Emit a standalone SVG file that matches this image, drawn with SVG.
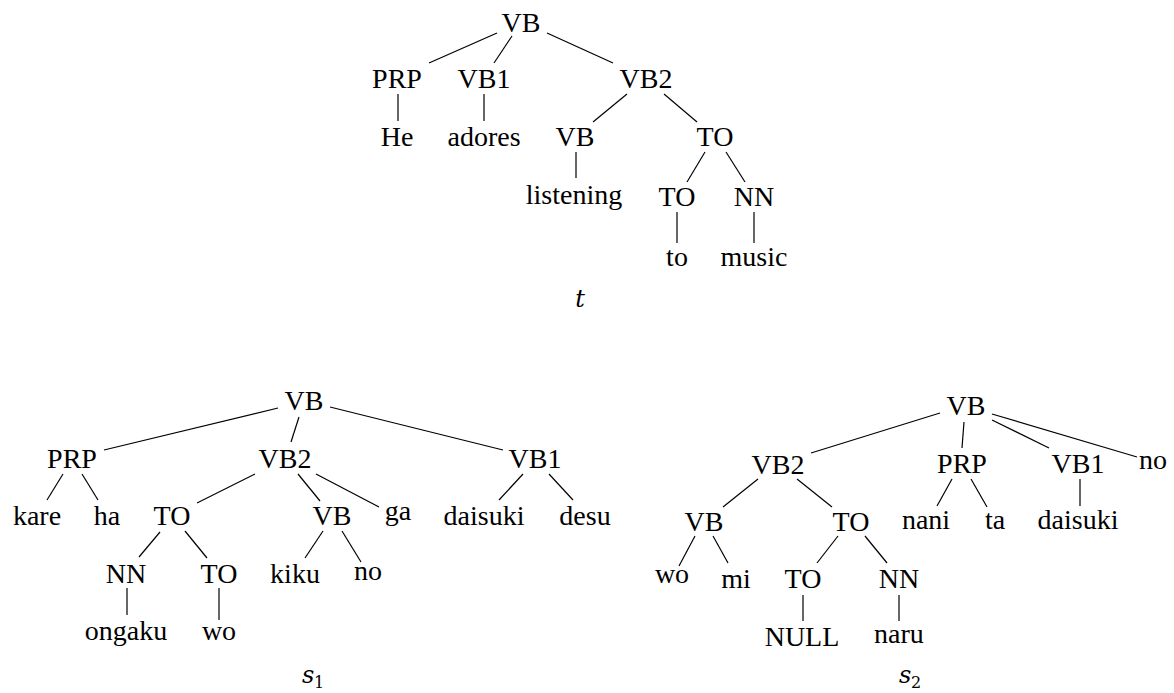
<svg xmlns="http://www.w3.org/2000/svg" width="1174" height="693" viewBox="0 0 1174 693">
<style>
.n{font-family:"Liberation Serif","Times New Roman",serif;font-size:28px;fill:#000;text-anchor:middle}
.m{font-family:"DejaVu Serif",serif;font-style:italic;font-size:24px;fill:#000}
.sub{font-family:"DejaVu Serif",serif;font-size:16px;fill:#000}
#edges line{stroke:#000;stroke-width:1.2;fill:none}
</style>
<rect width="1174" height="693" fill="#fff"/>
<g id="edges">
<line x1="497" y1="33" x2="429" y2="63"/>
<line x1="512" y1="36" x2="494" y2="63"/>
<line x1="547" y1="33" x2="613" y2="63"/>
<line x1="398" y1="94" x2="398" y2="121"/>
<line x1="484" y1="94" x2="484" y2="121"/>
<line x1="627" y1="94" x2="593" y2="122"/>
<line x1="664" y1="94" x2="697" y2="122"/>
<line x1="576" y1="152" x2="576" y2="178"/>
<line x1="705" y1="152" x2="687" y2="182"/>
<line x1="726" y1="152" x2="745" y2="182"/>
<line x1="677" y1="212" x2="677" y2="243"/>
<line x1="754" y1="212" x2="754" y2="243"/>

<line x1="278" y1="408" x2="104" y2="450"/>
<line x1="299" y1="417" x2="291" y2="442"/>
<line x1="330" y1="407" x2="503" y2="450"/>
<line x1="63" y1="474" x2="47" y2="500"/>
<line x1="82" y1="474" x2="98" y2="500"/>
<line x1="255" y1="474" x2="197" y2="503"/>
<line x1="298" y1="474" x2="320" y2="501"/>
<line x1="316" y1="474" x2="379" y2="507"/>
<line x1="523" y1="474" x2="499" y2="500"/>
<line x1="549" y1="474" x2="573" y2="500"/>
<line x1="160" y1="532" x2="139" y2="557"/>
<line x1="185" y1="531" x2="207" y2="558"/>
<line x1="323" y1="531" x2="305" y2="558"/>
<line x1="342" y1="531" x2="361" y2="562"/>
<line x1="127" y1="588" x2="127" y2="615"/>
<line x1="219" y1="588" x2="219" y2="620"/>

<line x1="940" y1="413" x2="811" y2="453"/>
<line x1="964" y1="422" x2="962" y2="448"/>
<line x1="992" y1="420" x2="1049" y2="448"/>
<line x1="992" y1="414" x2="1137" y2="457"/>
<line x1="952" y1="479" x2="937" y2="506"/>
<line x1="971" y1="479" x2="987" y2="507"/>
<line x1="1080" y1="479" x2="1080" y2="506"/>
<line x1="758" y1="479" x2="723" y2="507"/>
<line x1="797" y1="479" x2="832" y2="507"/>
<line x1="695" y1="536" x2="679" y2="566"/>
<line x1="713" y1="536" x2="728" y2="563"/>
<line x1="838" y1="536" x2="817" y2="563"/>
<line x1="865" y1="536" x2="887" y2="563"/>
<line x1="803" y1="595" x2="803" y2="621"/>
<line x1="899" y1="595" x2="899" y2="621"/>
</g>

<g id="tree-t">
<g id="t-vb"><text class="n" x="521" y="32">VB</text></g>
<g id="t-prp"><text class="n" x="397" y="88">PRP</text></g>
<g id="t-vb1"><text class="n" x="484" y="88">VB1</text></g>
<g id="t-vb2"><text class="n" x="646" y="88">VB2</text></g>
<g id="t-he"><text class="n" x="397" y="146">He</text></g>
<g id="t-adores"><text class="n" x="484" y="146">adores</text></g>
<g id="t-vb-b"><text class="n" x="575" y="146">VB</text></g>
<g id="t-to"><text class="n" x="715" y="146">TO</text></g>
<g id="t-listening"><text class="n" x="574" y="204">listening</text></g>
<g id="t-to-b"><text class="n" x="677" y="206">TO</text></g>
<g id="t-nn"><text class="n" x="754" y="206">NN</text></g>
<g id="t-to-w"><text class="n" x="677" y="266">to</text></g>
<g id="t-music"><text class="n" x="754" y="266">music</text></g>
<g id="t-label"><text class="m" x="580" y="307" text-anchor="middle">t</text></g>
</g>

<g id="tree-s1">
<g id="s1-vb"><text class="n" x="304" y="410">VB</text></g>
<g id="s1-prp"><text class="n" x="72" y="468">PRP</text></g>
<g id="s1-vb2"><text class="n" x="285" y="468">VB2</text></g>
<g id="s1-vb1"><text class="n" x="535" y="468">VB1</text></g>
<g id="s1-kare"><text class="n" x="37" y="525">kare</text></g>
<g id="s1-ha"><text class="n" x="107" y="525">ha</text></g>
<g id="s1-to"><text class="n" x="172" y="525">TO</text></g>
<g id="s1-vb-b"><text class="n" x="332" y="525">VB</text></g>
<g id="s1-ga"><text class="n" x="398" y="520">ga</text></g>
<g id="s1-daisuki"><text class="n" x="484" y="525">daisuki</text></g>
<g id="s1-desu"><text class="n" x="585" y="525">desu</text></g>
<g id="s1-nn"><text class="n" x="126" y="583">NN</text></g>
<g id="s1-to-b"><text class="n" x="219" y="583">TO</text></g>
<g id="s1-kiku"><text class="n" x="295" y="583">kiku</text></g>
<g id="s1-no"><text class="n" x="368" y="580">no</text></g>
<g id="s1-ongaku"><text class="n" x="126" y="640">ongaku</text></g>
<g id="s1-wo"><text class="n" x="219" y="640">wo</text></g>
<g id="s1-label"><text class="m" x="302" y="683">s</text><text class="sub" x="314" y="688">1</text></g>
</g>

<g id="tree-s2">
<g id="s2-vb"><text class="n" x="966" y="415">VB</text></g>
<g id="s2-vb2"><text class="n" x="778" y="474">VB2</text></g>
<g id="s2-prp"><text class="n" x="962" y="473">PRP</text></g>
<g id="s2-vb1"><text class="n" x="1078" y="473">VB1</text></g>
<g id="s2-no"><text class="n" x="1153" y="469">no</text></g>
<g id="s2-vb-b"><text class="n" x="704" y="531">VB</text></g>
<g id="s2-to"><text class="n" x="851" y="531">TO</text></g>
<g id="s2-nani"><text class="n" x="926" y="529">nani</text></g>
<g id="s2-ta"><text class="n" x="995" y="529">ta</text></g>
<g id="s2-daisuki"><text class="n" x="1078" y="529">daisuki</text></g>
<g id="s2-wo"><text class="n" x="672" y="583">wo</text></g>
<g id="s2-mi"><text class="n" x="736" y="588">mi</text></g>
<g id="s2-to-b"><text class="n" x="803" y="588">TO</text></g>
<g id="s2-nn"><text class="n" x="899" y="588">NN</text></g>
<g id="s2-null"><text class="n" x="802" y="646">NULL</text></g>
<g id="s2-naru"><text class="n" x="899" y="643">naru</text></g>
<g id="s2-label"><text class="m" x="899" y="683">s</text><text class="sub" x="911" y="688">2</text></g>
</g>
</svg>
